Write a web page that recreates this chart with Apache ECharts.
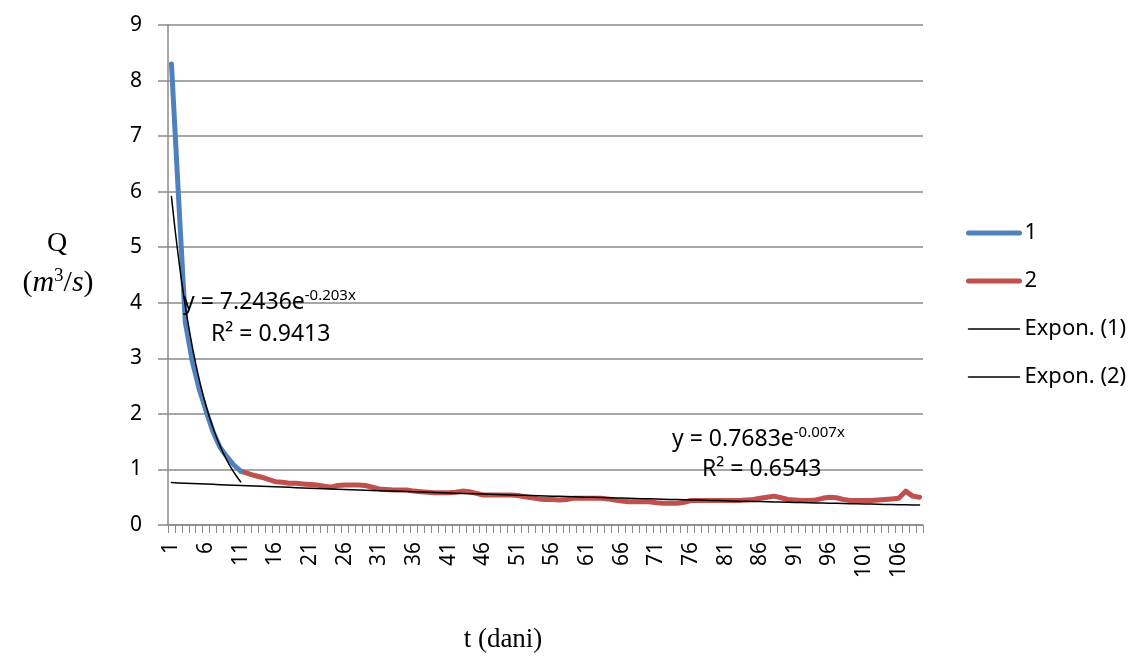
<!DOCTYPE html>
<html>
<head>
<meta charset="utf-8">
<script src="https://cdn.jsdelivr.net/npm/echarts@6/dist/echarts.min.js"></script>
<style>html,body{margin:0;padding:0;background:#fff}#c{width:1135px;height:657px}</style>
</head>
<body>
<div id="c"></div>
<script>
// ---- data ----
const days = Array.from({length: 109}, (_, i) => String(i + 1));
const series1Start = 1;   // day index of first value of series 1
const series1 = [8.3, 5.95, 3.65, 2.95, 2.45, 2.05, 1.68, 1.4, 1.23, 1.08, 0.97];
const series2Start = 11;  // day index of first value of series 2
const series2 = [
  0.97, 0.93, 0.89, 0.86, 0.82, 0.78, 0.77, 0.75, 0.75, 0.74,
  0.73, 0.72, 0.70, 0.68, 0.71, 0.72, 0.72, 0.72, 0.71, 0.68,
  0.65, 0.64, 0.63, 0.63, 0.63, 0.61, 0.60, 0.59, 0.58, 0.58,
  0.58, 0.59, 0.61, 0.60, 0.57, 0.54, 0.54, 0.54, 0.54, 0.54,
  0.53, 0.51, 0.49, 0.47, 0.46, 0.46, 0.45, 0.46, 0.48, 0.48,
  0.48, 0.48, 0.48, 0.47, 0.45, 0.43, 0.42, 0.42, 0.42, 0.42,
  0.40, 0.39, 0.39, 0.39, 0.41, 0.44, 0.44, 0.44, 0.44, 0.44,
  0.44, 0.44, 0.44, 0.45, 0.46, 0.48, 0.50, 0.52, 0.49, 0.46,
  0.45, 0.44, 0.44, 0.45, 0.48, 0.50, 0.49, 0.46, 0.44, 0.44,
  0.44, 0.44, 0.45, 0.46, 0.47, 0.48, 0.61, 0.52, 0.50
];
const seriesNames = ['1', '2', 'Expon. (1)', 'Expon. (2)'];
// exponential trend lines as printed on the chart: y = a * e^(b x)
const trend1Coef = [7.2436, -0.203];
const trend1Range = [1, 11];
const trend2Coef = [0.7683, -0.007];
const trend2Range = [1, 109];
const yTicks = [0, 9, 1]; // min, max, interval

// ---- build ----
function pad(vals, start) {
  const out = days.map(() => null);
  vals.forEach((v, i) => { out[start - 1 + i] = v; });
  return out;
}
function trend(coef, range, step) {
  const pts = [];
  for (let x = range[0]; x <= range[1] + 1e-9; x += step) {
    pts.push([x, coef[0] * Math.exp(coef[1] * x)]);
  }
  return pts;
}

const chart = echarts.init(document.getElementById('c'), null, {renderer: 'canvas'});
const gray = '#8a8a8a';
const sans = '"Noto Sans", "Open Sans", sans-serif';
const serif = '"Liberation Serif", "DejaVu Serif", serif';
const colors = ['#4F81BD', '#C0504D', '#000', '#000'];
const widths = [5, 5, 1.5, 1.5];

chart.setOption({
  animation: false,
  backgroundColor: '#fff',
  grid: {left: 168, right: 212, top: 25, bottom: 132, containLabel: false},
  legend: {
    orient: 'vertical',
    left: 961,
    top: 216,
    itemWidth: 51,
    itemHeight: 14,
    itemGap: 24,
    data: seriesNames.map((n, i) => ({
      name: n,
      lineStyle: {color: colors[i], width: widths[i], cap: 'round'}
    })),
    textStyle: {fontFamily: sans, fontSize: 22, color: '#000', lineHeight: 24},
    itemStyle: {opacity: 0}
  },
  xAxis: [{
    type: 'category',
    data: days,
    boundaryGap: true,
    axisLine: {lineStyle: {color: gray, width: 1.5}},
    axisTick: {show: true, interval: 0, length: 8, lineStyle: {color: gray, width: 1}},
    axisLabel: {interval: 4, rotate: 90, margin: 17, fontFamily: sans, fontSize: 21, color: '#000'},
    splitLine: {show: false}
  }, {
    type: 'value',
    min: 0.5,
    max: days.length + 0.5,
    show: false
  }],
  yAxis: {
    type: 'value',
    min: yTicks[0], max: yTicks[1], interval: yTicks[2],
    axisLine: {show: true, lineStyle: {color: gray, width: 1.5}},
    axisTick: {show: true, length: 10, lineStyle: {color: gray, width: 1.5}},
    axisLabel: {margin: 26, fontFamily: sans, fontSize: 21, color: '#000'},
    splitLine: {lineStyle: {color: gray, width: 1.5}}
  },
  series: [0, 1, 2, 3].map(i => ({
    name: seriesNames[i], type: 'line',
    xAxisIndex: i < 2 ? 0 : 1,
    data: i === 0 ? pad(series1, series1Start)
        : i === 1 ? pad(series2, series2Start)
        : i === 2 ? trend(trend1Coef, trend1Range, 0.1)
        : trend(trend2Coef, trend2Range, 1),
    symbol: 'none', showSymbol: false,
    lineStyle: {color: colors[i], width: widths[i], cap: 'round', join: 'round'},
    itemStyle: {color: colors[i]},
    z: i === 0 ? 3 : i === 1 ? 2 : 4
  })),
  graphic: [
    // trend line equations
    {type: 'text', left: 183, top: 288, z: 10, style: {
      text: '{n|y = 7.2436e}{s|-0.203x}',
      rich: {n: {fontFamily: sans, fontSize: 23, lineHeight: 29, fill: '#000'},
             s: {fontFamily: sans, fontSize: 15, lineHeight: 29, verticalAlign: 'top', fill: '#000'}}
    }},
    {type: 'text', left: 211, top: 320, z: 10, style: {
      text: 'R² = 0.9413', fontFamily: sans, fontSize: 23, lineHeight: 29, fill: '#000'
    }},
    {type: 'text', left: 672, top: 425, z: 10, style: {
      text: '{n|y = 0.7683e}{s|-0.007x}',
      rich: {n: {fontFamily: sans, fontSize: 23, lineHeight: 29, fill: '#000'},
             s: {fontFamily: sans, fontSize: 15, lineHeight: 29, verticalAlign: 'top', fill: '#000'}}
    }},
    {type: 'text', left: 702, top: 455, z: 10, style: {
      text: 'R² = 0.6543', fontFamily: sans, fontSize: 23, lineHeight: 29, fill: '#000'
    }},
    // axis titles
    {type: 'text', x: 57, y: 244, z: 10, style: {
      text: 'Q', fontFamily: serif, fontSize: 28, fill: '#000', align: 'center', verticalAlign: 'middle'
    }},
    {type: 'text', x: 58, y: 283, z: 10, style: {
      text: '{p|(}{i|m}{s|3}{p|/}{i|s}{p|)}', align: 'center', verticalAlign: 'middle',
      rich: {p: {fontFamily: serif, fontSize: 30, lineHeight: 32, fill: '#000'},
             i: {fontFamily: serif, fontStyle: 'italic', fontSize: 30, lineHeight: 32, fill: '#000'},
             s: {fontFamily: serif, fontSize: 19, lineHeight: 32, verticalAlign: 'top', fill: '#000'}}
    }},
    {type: 'text', x: 503, y: 640, z: 10, style: {
      text: 't (dani)', fontFamily: serif, fontSize: 27, fill: '#000', align: 'center', verticalAlign: 'middle'
    }}
  ]
});
</script>
</body>
</html>
